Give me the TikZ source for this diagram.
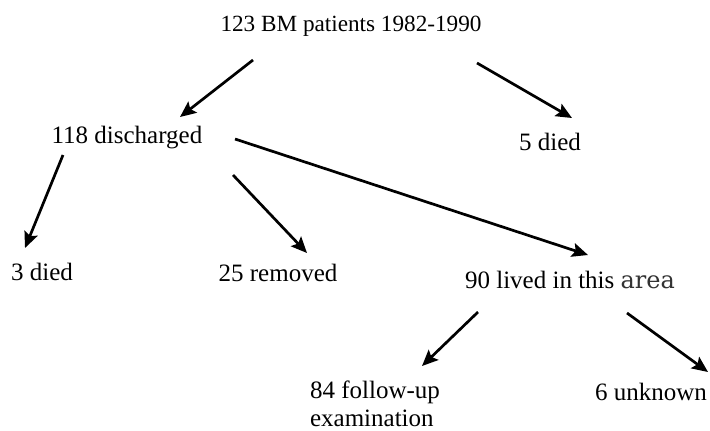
\documentclass[tikz,border=0pt]{standalone}
\usepackage{fontspec}
\setmainfont{Liberation Serif}
\newfontfamily\areafont{DejaVu Serif}
\usetikzlibrary{arrows.meta}
\begin{document}
\begin{tikzpicture}[x=.5pt,y=-.5pt,
  lbl/.style={inner sep=0pt,font=\fontsize{12.5}{14}\selectfont},
  arr/.style={line width=1.35pt,-{Stealth[length=8pt,width=7pt,inset=1.5pt]}}]
\useasboundingbox(0,0)rectangle(710,430);
\node[lbl,font=\fontsize{11.6}{13}\selectfont](top)at(351,26){123 BM patients 1982-1990};
\node[lbl](dis)at(127,138){118 discharged};\node[lbl](died5)at(550,142){5 died};
\node[lbl](died3)at(42,272){3 died};\node[lbl](removed)at(278,273){25 removed};
\node[lbl](lived)at(570,280){90 lived in this {\areafont\fontsize{12}{14}\selectfont\color{black!80}area}};
\node[lbl,align=left](follow)at(375,404){84 follow-up\\examination};
\node[lbl](unknown)at(651,392){6 unknown};
\draw[arr]([shift={(-98,34)}]top.center)--([shift={(53,-21)}]dis.center);
\draw[arr]([shift={(126,37)}]top.center)--([shift={(22,-24)}]died5.center);
\draw[arr]([shift={(-64,17)}]dis.center)--([shift={(-17,-24)}]died3.center);
\draw[arr]([shift={(106,37)}]dis.center)--([shift={(29,-20)}]removed.center);
\draw[arr]([shift={(108,1)}]dis.center)--([shift={(18,-25)}]lived.center);
\draw[arr]([shift={(-92,32)}]lived.center)--([shift={(47,-38)}]follow.center);
\draw[arr]([shift={(57,33)}]lived.center)--([shift={(57,-20)}]unknown.center);
\end{tikzpicture}
\end{document}
